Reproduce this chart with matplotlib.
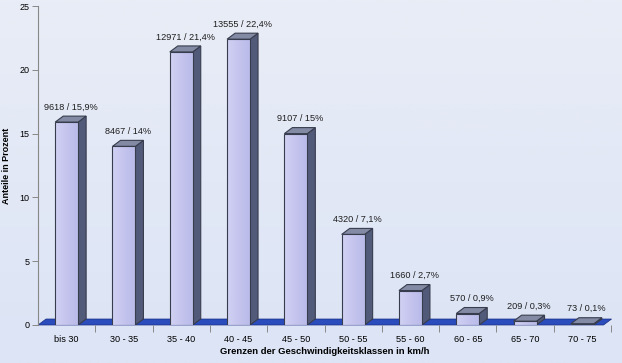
import numpy as np
import matplotlib
matplotlib.use("Agg")
import matplotlib.pyplot as plt
from matplotlib.patches import Polygon, Rectangle
from matplotlib.colors import LinearSegmentedColormap

categories = ["bis 30", "30 - 35", "35 - 40", "40 - 45", "45 - 50",
              "50 - 55", "55 - 60", "60 - 65", "65 - 70", "70 - 75"]
counts = [9618, 8467, 12971, 13555, 9107, 4320, 1660, 570, 209, 73]
percent_labels = ["15,9", "14", "21,4", "22,4", "15", "7,1", "2,7", "0,9", "0,3", "0,1"]
percents = [15.9, 14.0, 21.4, 22.4, 15.0, 7.1, 2.7, 0.9, 0.3, 0.1]
yticks = [0, 5, 10, 15, 20, 25]

plt.rcParams['font.family'] = ['Liberation Sans', 'DejaVu Sans']

fig = plt.figure(figsize=(6.22, 3.63), dpi=100)
# background gradient
bg = fig.add_axes([0, 0, 1, 1], zorder=-10)
grad = np.linspace(0, 1, 256).reshape(-1, 1)
bg_cmap = LinearSegmentedColormap.from_list("bg", ["#e9edf6", "#e2e8f6", "#dce4f5"])
bg.imshow(grad, aspect="auto", cmap=bg_cmap, extent=[0, 1, 0, 1], origin="upper")
bg.axis("off")

ax = fig.add_axes([38/622, 38/363, 573/622, 319/363])
ax.patch.set_alpha(0)
ax.set_xlim(-0.5, 9.5)
ax.set_ylim(0, 25)

w = 0.40
dx = 0.14
dy = 0.47

# floor
x0, x1 = -0.5, 9.37
floor = Polygon([(x0, 0), (x1, 0), (x1 + dx, dy), (x0 + dx, dy)], closed=True,
                facecolor="#2a4cbc", edgecolor="#1a2f80", lw=0.5, zorder=1, clip_on=False)
ax.add_patch(floor)

hgrad = np.linspace(0, 1, 64).reshape(1, -1)
front_cmap = LinearSegmentedColormap.from_list("fr", ["#d2d2f4", "#c4c4ee", "#babbe9"])
edge = "#383d4e"
for i, v in enumerate(percents):
    xl, xr = i - w/2, i + w/2
    side = Polygon([(xr, 0), (xr + dx, dy), (xr + dx, v + dy), (xr, v)], closed=True,
                   facecolor="#525a7a", edgecolor=edge, lw=0.8, zorder=3)
    ax.add_patch(side)
    top = Polygon([(xl, v), (xr, v), (xr + dx, v + dy), (xl + dx, v + dy)], closed=True,
                  facecolor="#838aa4", edgecolor=edge, lw=0.8, zorder=3)
    ax.add_patch(top)
    rect = Rectangle((xl, 0), w, v, facecolor="none", edgecolor=edge, lw=0.8, zorder=5)
    ax.add_patch(rect)
    im = ax.imshow(hgrad, aspect="auto", cmap=front_cmap, extent=[xl, xr, 0, v],
                   origin="upper", zorder=4)
    im.set_clip_path(rect)
    ax.text(i + dx/2, v + dy + 0.35, f"{counts[i]} / {percent_labels[i]}%",
            ha="center", va="bottom", fontsize=6.6, color="#1e1e1e", zorder=6)

ax.set_xlim(-0.5, 9.5)
ax.set_ylim(0, 25)
ax.set_yticks(yticks)
ax.set_yticklabels([str(t) for t in yticks], fontsize=6.5)
ax.set_xticks(range(len(categories)))
ax.set_xticklabels(categories, fontsize=6.6)
ax.set_xticks(np.arange(0.5, 10, 1.0), minor=True)
ax.tick_params(axis="x", which="major", length=0, pad=7)
ax.tick_params(axis="x", which="minor", length=5, color="#888888", width=0.7)
ax.tick_params(axis="y", length=4, color="#888888", width=0.7, pad=2)
for s in ["top", "right", "bottom"]:
    ax.spines[s].set_visible(False)
ax.spines["left"].set_color("#888888")
ax.spines["left"].set_linewidth(0.8)

ax.set_ylabel("Anteile in Prozent", fontsize=6.5, fontweight="bold", labelpad=6)
ax.set_xlabel("Grenzen der Geschwindigkeitsklassen in km/h", fontsize=6.8,
              fontweight="bold", labelpad=2)

fig.savefig("out.png", dpi=100)
